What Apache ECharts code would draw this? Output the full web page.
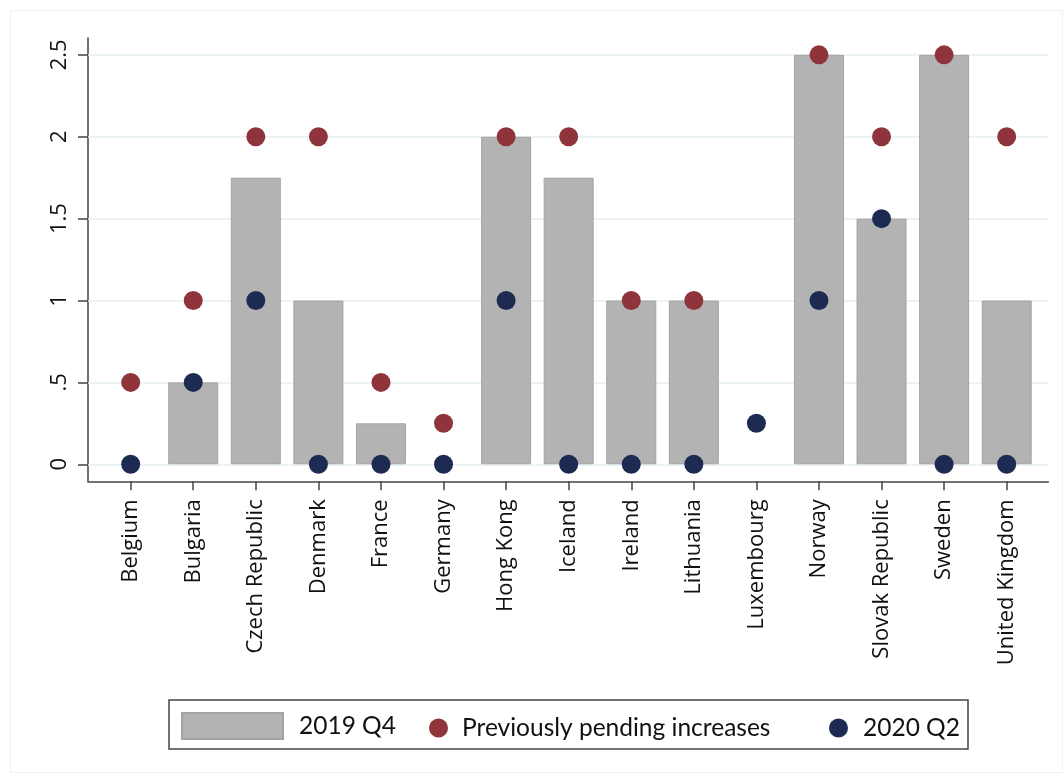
<!DOCTYPE html>
<html>
<head>
<meta charset="utf-8">
<title>Rate changes</title>
<script src="https://cdn.jsdelivr.net/npm/echarts@6/dist/echarts.min.js"></script>
<style>
  html, body { margin: 0; padding: 0; background: #fff; }
  #chart { width: 1063px; height: 773px; }
</style>
</head>
<body>
<div id="chart"></div>
<script>
// categories + values
var countries = ['Belgium', 'Bulgaria', 'Czech Republic', 'Denmark', 'France', 'Germany',
  'Hong Kong', 'Iceland', 'Ireland', 'Lithuania', 'Luxembourg', 'Norway',
  'Slovak Republic', 'Sweden', 'United Kingdom'];
var q4_2019 = [null, 0.5, 1.75, 1, 0.25, null, 2, 1.75, 1, 1, null, 2.5, 1.5, 2.5, 1];
var pending = [0.5, 1, 2, 2, 0.5, 0.25, 2, 2, 1, 1, null, 2.5, 2, 2.5, 2];
var q2_2020 = [0, 0.5, 1, 0, 0, 0, 1, 0, 0, 0, 0.25, 1, 1.5, 0, 0];
var yTicks = [0, 0.5, 1, 1.5, 2, 2.5];

var idx = countries.map(function (c, i) { return i; });
function pairs(arr) {
  return arr.map(function (v, i) { return [i, v]; });
}

var chart = echarts.init(document.getElementById('chart'));
var axisFont = "'Open Sans', 'DejaVu Sans', sans-serif";
var axisColor = '#444';
var legendFont = { fontFamily: 'Lato', fontSize: 24.5, color: '#111' };

chart.setOption({
  animation: false,
  backgroundColor: '#fff',
  grid: { left: 88, right: 14.7, top: 38, bottom: 291.7 },
  xAxis: {
    type: 'value',
    min: -0.682,
    max: 14.665,
    axisLine: { show: true, onZero: false, lineStyle: { color: axisColor, width: 1.5 } },
    axisTick: { show: true, length: 9, customValues: idx, lineStyle: { color: axisColor, width: 1.5 } },
    axisLabel: {
      customValues: idx,
      rotate: 90,
      margin: 18,
      fontFamily: axisFont,
      fontSize: 22,
      color: '#111',
      formatter: function (v) { return countries[Math.round(v)]; }
    },
    splitLine: { show: false }
  },
  yAxis: {
    type: 'value',
    min: -0.104,
    max: 2.603,
    axisLine: { show: true, onZero: false, lineStyle: { color: axisColor, width: 1.5 } },
    axisTick: { show: true, length: 10, customValues: yTicks, lineStyle: { color: axisColor, width: 1.5 } },
    axisLabel: {
      customValues: yTicks,
      rotate: 90,
      margin: 17,
      fontFamily: axisFont,
      fontSize: 22,
      color: '#111',
      formatter: function (v) { return v === 0.5 ? '.5' : String(v); }
    },
    splitLine: { show: false }
  },
  legend: [
    {
      data: [{ name: '2019 Q4', icon: 'rect' }], left: 181, top: 712, padding: 0,
      itemWidth: 101, itemHeight: 26,
      textStyle: Object.assign({ padding: [0, 0, 0, 11] }, legendFont)
    },
    {
      data: ['Previously pending increases'], left: 429, top: 715.5, padding: 0,
      itemWidth: 19, itemHeight: 19,
      textStyle: Object.assign({ padding: [0, 0, 0, 9] }, legendFont)
    },
    {
      data: ['2020 Q2'], left: 829, top: 715.5, padding: 0,
      itemWidth: 19, itemHeight: 19,
      textStyle: Object.assign({ padding: [0, 0, 0, 10] }, legendFont)
    }
  ],
  graphic: [
    {
      type: 'rect', silent: true, z: -1,
      shape: { x: 10.5, y: 10.5, width: 1052, height: 762 },
      style: { fill: null, stroke: '#eef1f1', lineWidth: 1 }
    },
    {
      type: 'rect', silent: true,
      shape: { x: 169, y: 700, width: 799, height: 49 },
      style: { fill: null, stroke: '#444', lineWidth: 1.5 }
    }
  ],
  series: [
    {
      name: '2019 Q4',
      type: 'bar',
      barWidth: 50,
      z: 2,
      itemStyle: { color: '#b3b3b3', borderColor: '#a3a3a3', borderWidth: 1 },
      data: pairs(q4_2019),
      markLine: {
        silent: true,
        z: 1,
        symbol: 'none',
        label: { show: false },
        lineStyle: { color: '#e6eff1', width: 1.5, type: 'solid' },
        data: yTicks.map(function (v) { return { yAxis: v }; })
      }
    },
    {
      name: 'Previously pending increases',
      type: 'scatter',
      symbol: 'circle',
      symbolSize: 19,
      z: 3,
      itemStyle: { color: '#8f343b', opacity: 1 },
      data: pairs(pending)
    },
    {
      name: '2020 Q2',
      type: 'scatter',
      symbol: 'circle',
      symbolSize: 19,
      z: 4,
      itemStyle: { color: '#1d2b52', opacity: 1 },
      data: pairs(q2_2020)
    }
  ]
});
</script>
</body>
</html>
